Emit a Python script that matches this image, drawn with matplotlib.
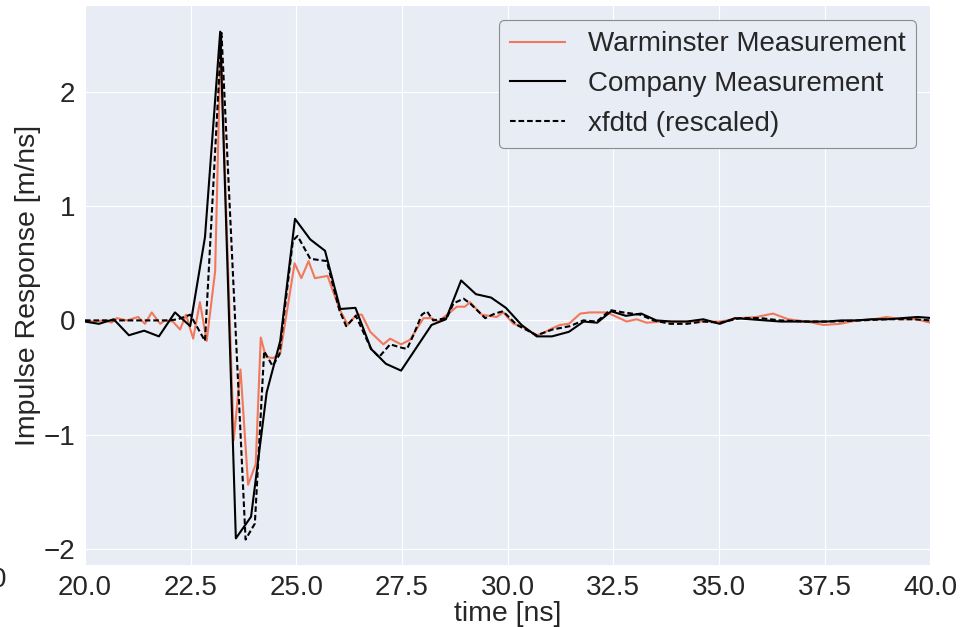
import matplotlib
matplotlib.use('Agg')
import matplotlib.pyplot as plt

# Warminster measurement (orange)
t_warm = [20.0, 20.19, 20.47, 20.63, 20.75, 20.99, 21.26, 21.42, 21.58, 21.78, 21.89, 22.08,
          22.25, 22.39, 22.56, 22.72, 22.88, 23.08, 23.21, 23.52, 23.68, 23.86, 24.04, 24.16,
          24.28, 24.45, 24.62, 24.96, 25.12, 25.29, 25.44, 25.74, 26.02, 26.22, 26.42, 26.55,
          26.75, 27.06, 27.22, 27.48, 27.69, 28.01, 28.2, 28.36, 28.6, 28.8, 28.99, 29.11,
          29.39, 29.74, 29.9, 30.14, 30.33, 30.69, 30.85, 31.05, 31.24, 31.45, 31.72, 31.95,
          32.35, 32.82, 33.05, 33.29, 33.68, 34.08, 34.47, 35.03, 35.5, 35.89, 36.28, 36.64,
          37.08, 37.48, 37.87, 38.27, 38.66, 38.97, 39.29, 39.68, 40.0]
y_warm = [0.0, -0.01, 0.0, -0.02, 0.02, 0.0, 0.03, -0.03, 0.07, -0.03, 0.0, -0.01,
          -0.08, 0.05, -0.16, 0.16, -0.18, 0.43, 2.45, -1.05, -0.43, -1.44, -1.26, -0.15,
          -0.32, -0.33, -0.29, 0.50, 0.37, 0.52, 0.37, 0.39, 0.10, -0.04, 0.05, 0.05,
          -0.10, -0.21, -0.16, -0.21, -0.17, 0.02, 0.02, -0.01, 0.06, 0.12, 0.12, 0.16,
          0.05, 0.03, 0.07, -0.03, -0.05, -0.13, -0.11, -0.07, -0.04, -0.03, 0.06, 0.07,
          0.07, -0.01, 0.01, -0.02, -0.01, -0.01, -0.01, -0.01, 0.02, 0.03, 0.06, 0.01,
          -0.01, -0.04, -0.03, 0.0, 0.01, 0.03, 0.01, 0.01, -0.02]

# Company measurement (black solid)
t_comp = [20.0, 20.33, 20.68, 21.04, 21.4, 21.75, 22.13, 22.49, 22.84, 23.2, 23.57, 23.93,
          24.3, 24.45, 24.62, 24.97, 25.33, 25.68, 26.04, 26.4, 26.77, 27.12, 27.48, 27.84,
          28.2, 28.54, 28.9, 29.25, 29.61, 29.96, 30.33, 30.69, 31.05, 31.45, 31.8, 32.12,
          32.45, 32.8, 33.16, 33.52, 33.88, 34.24, 34.63, 35.02, 35.38, 35.74, 36.1, 36.46,
          36.82, 37.18, 37.54, 37.9, 38.26, 38.62, 38.98, 39.34, 39.7, 40.06]
y_comp = [-0.01, -0.03, 0.01, -0.13, -0.09, -0.14, 0.07, -0.05, 0.73, 2.53, -1.91, -1.72,
          -0.63, -0.42, -0.18, 0.89, 0.71, 0.61, 0.10, 0.11, -0.25, -0.38, -0.44, -0.24,
          -0.04, 0.01, 0.35, 0.23, 0.20, 0.11, -0.04, -0.14, -0.14, -0.10, -0.01, -0.02,
          0.08, 0.04, 0.06, 0.0, -0.01, -0.01, 0.01, -0.03, 0.02, 0.01, 0.0, -0.01,
          -0.01, -0.01, -0.01, 0.0, 0.0, 0.01, 0.01, 0.02, 0.03, 0.02]

# xfdtd simulation, rescaled (black dashed)
t_sim = [20.0, 20.5, 21.0, 21.5, 22.0, 22.2, 22.49, 22.84, 23.23, 23.8, 24.02, 24.24,
         24.44, 24.6, 24.92, 25.03, 25.33, 25.72, 26.02, 26.18, 26.41, 26.77, 26.96, 27.22,
         27.5, 27.62, 27.77, 27.97, 28.09, 28.24, 28.56, 28.72, 28.96, 29.11, 29.47, 29.7,
         29.89, 30.22, 30.69, 31.06, 31.48, 31.79, 32.11, 32.43, 32.74, 33.14, 33.45, 33.85,
         34.24, 34.63, 35.03, 35.5, 35.98, 36.45, 37.08, 37.7, 38.34, 38.97, 39.6, 40.0]
y_sim = [0.0, 0.0, 0.0, 0.0, 0.0, 0.01, 0.05, -0.18, 2.52, -1.92, -1.78, -0.27,
         -0.40, -0.30, 0.70, 0.74, 0.54, 0.52, 0.09, -0.05, 0.04, -0.25, -0.32, -0.21,
         -0.24, -0.25, -0.13, 0.05, 0.08, 0.0, 0.02, 0.15, 0.19, 0.15, 0.02, 0.06,
         0.08, -0.04, -0.13, -0.08, -0.05, 0.0, -0.01, 0.09, 0.07, 0.05, 0.0, -0.03,
         -0.03, -0.01, -0.02, 0.02, 0.02, 0.0, -0.01, -0.01, 0.0, 0.01, 0.01, 0.0]

plt.rcParams['font.family'] = ['Liberation Sans', 'DejaVu Sans']
plt.rcParams['text.color'] = '#262626'
plt.rcParams['axes.labelcolor'] = '#262626'

fig = plt.figure(figsize=(9.6, 6.27), dpi=100)
ax = fig.add_axes([0.0885, 0.099, 0.8805, 0.891])
ax.set_facecolor('#E8ECF5')
for s in ax.spines.values():
    s.set_visible(False)
ax.grid(True, color='white', linewidth=0.8)
ax.set_axisbelow(True)

ax.plot(t_warm, y_warm, color='#F2785B', lw=1.5, label='Warminster Measurement')
ax.plot(t_comp, y_comp, color='black', lw=1.5, label='Company Measurement')
ax.plot(t_sim, y_sim, color='black', lw=1.5, ls=(0, (2.7, 1.4)), label='xfdtd (rescaled)')

ax.set_xlim(20, 40)
ax.set_xticks([20.0, 22.5, 25.0, 27.5, 30.0, 32.5, 35.0, 37.5, 40.0])
ax.set_xticklabels(['20.0', '22.5', '25.0', '27.5', '30.0', '32.5', '35.0', '37.5', '40.0'])
ax.set_yticks([-2, -1, 0, 1, 2])
ax.tick_params(axis='both', length=0, labelsize=20, colors='#262626', pad=7)
ax.set_xlabel('time [ns]', fontsize=20.5, labelpad=0)
ax.set_ylabel('Impulse Response [m/ns]', fontsize=20.5, labelpad=2)

leg = ax.legend(loc='upper right', fontsize=20, frameon=True, fancybox=True,
                facecolor='#E8ECF5', edgecolor='0.55', framealpha=1.0)
leg.get_frame().set_linewidth(0.8)

# clipped leftover tick label at the figure's left edge
fig.text(-0.009, 0.075, '0', fontsize=20, color='#262626', ha='left', va='center')

fig.savefig('out.png', dpi=100)
